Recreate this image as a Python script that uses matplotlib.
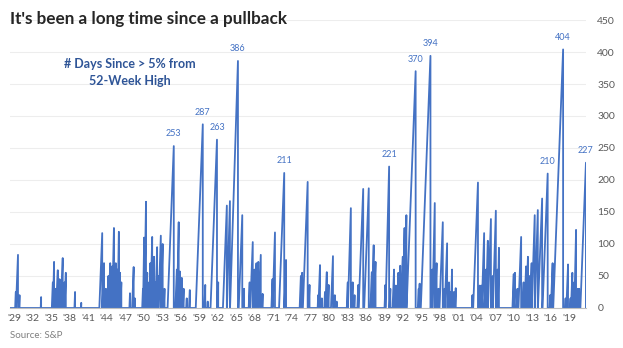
import matplotlib
matplotlib.use("Agg")
import matplotlib.pyplot as plt

plt.rcParams['font.family'] = ['Lato', 'DejaVu Sans']

# each streak: year it ended, and how many trading days it lasted
peak_year = [
    1929.3, 1929.65, 1929.9, 1933.4,
    1935.3, 1935.5, 1935.8, 1936.1, 1936.4, 1936.6, 1936.9, 1937.2, 1937.4,
    1938.9, 1939.9,
    1943.3, 1943.6, 1943.9, 1944.3, 1944.6, 1944.9, 1945.2, 1945.5, 1945.8,
    1946.0, 1946.2, 1946.4, 1947.8, 1948.4, 1948.6,
    1949.9, 1950.1, 1950.4, 1950.6, 1950.9, 1951.1, 1951.4, 1951.7, 1951.9,
    1952.2, 1952.4, 1952.8, 1953.1, 1953.4,
    1954.9, 1955.4, 1955.7, 1955.9, 1956.2, 1956.5, 1957.0, 1957.5,
    1959.6, 1960.0, 1960.4, 1961.9, 1962.1,
    1963.5, 1964.0, 1965.3, 1966.0, 1966.3,
    1967.2, 1967.7, 1968.0, 1968.3, 1968.6, 1969.0, 1969.3,
    1970.9, 1971.3, 1972.8, 1973.1,
    1975.5, 1975.7, 1976.6, 1976.9,
    1978.3, 1978.6, 1978.9, 1979.4, 1979.7, 1980.0, 1980.7, 1981.0, 1981.3,
    1983.1, 1983.6, 1983.9, 1984.2,
    1984.8, 1985.6, 1986.5, 1987.0, 1987.3, 1987.6,
    1989.2, 1989.8, 1990.0, 1990.6, 1990.9, 1991.3, 1991.6, 1992.0, 1992.3, 1992.6,
    1994.1, 1994.6, 1994.75, 1996.5,
    1996.8, 1997.2, 1997.5, 1997.8, 1998.5, 1998.8, 1999.2, 1999.5, 1999.8,
    2000.0, 2000.3, 2000.6,
    2003.3, 2004.2, 2004.5, 2004.8, 2005.2, 2005.5, 2005.8, 2006.3, 2006.6,
    2007.1, 2007.4, 2007.6,
    2010.0, 2010.2, 2010.6, 2011.2, 2011.6, 2012.0, 2012.3, 2012.6, 2012.9,
    2013.4, 2013.9, 2014.6, 2015.5, 2015.9, 2016.3,
    2018.0, 2018.4, 2018.8, 2019.2, 2019.5, 2019.8, 2020.1, 2020.4, 2020.6,
    2021.7,
]
peak_days = [
    25, 83, 20, 17,
    40, 72, 30, 59, 45, 35, 78, 40, 55,
    25, 8,
    117, 70, 30, 50, 70, 65, 125, 70, 60,
    119, 55, 40, 23, 64, 15,
    30, 110, 166, 55, 40, 70, 111, 80, 40,
    95, 50, 113, 100, 30,
    253, 60, 134, 57, 47, 30, 15, 28,
    287, 36, 10, 263, 40,
    160, 167, 386, 145, 30,
    40, 103, 60, 70, 72, 83, 22,
    45, 118, 211, 75,
    50, 55, 197, 36,
    20, 67, 15, 25, 56, 36, 81, 20, 10,
    40, 156, 40, 20,
    36, 186, 187, 56, 98, 72,
    36, 221, 30, 60, 35, 55, 66, 80, 125, 145,
    370, 30, 38, 394,
    60, 164, 70, 30, 134, 30, 101, 40, 25,
    60, 25, 31,
    20, 196, 35, 35, 117, 60, 105, 139, 50,
    152, 60, 94,
    53, 55, 30, 111, 40, 65, 80, 50, 70,
    145, 153, 171, 210, 20, 70,
    404, 15, 68, 15, 55, 40, 122, 30, 30,
    227,
]
labelled = [253, 287, 263, 386, 211, 221, 370, 394, 210, 404, 227]

# build the day-count line: count climbs during a streak, resets to 0 after
xs, ys = [1928.35], [0]
prev_end = 1928.35
for yr, d in zip(peak_year, peak_days):
    start = max(yr - d / 252.0, prev_end + 0.02)
    xs += [start, yr, yr]
    ys += [0, d, 0]
    prev_end = yr
xs.append(2021.75)
ys.append(0)

fig = plt.figure(figsize=(6.23, 3.48), dpi=100)
ax = fig.add_axes([0.016, 0.115, 0.925, 0.8275])
ax.plot(xs, ys, color='#4472C4', lw=1.3)

for yr, d in zip(peak_year, peak_days):
    if d in labelled:
        ax.text(yr, d + 12, str(d), ha='center', va='bottom', fontsize=6.5, color='#4472C4')

ax.set_xlim(1928.35, 2021.75)
ax.set_ylim(0, 450)
ax.set_yticks(range(0, 451, 50))
ax.yaxis.tick_right()
ax.set_xticks(range(1929, 2020, 3))
ax.set_xticklabels(["'%02d" % (y % 100) for y in range(1929, 2020, 3)])
ax.tick_params(axis='both', length=0, labelsize=7.5, colors='#595959')
ax.tick_params(axis='y', pad=8)
ax.tick_params(axis='x', pad=4)
ax.grid(axis='y', color='#EDEDED', lw=0.8)
ax.set_axisbelow(True)
for s in ['top', 'left', 'right']:
    ax.spines[s].set_visible(False)
ax.spines['bottom'].set_color('#BFBFBF')

ax.text(1947.8, 368, "# Days Since > 5% from\n52-Week High", ha='center', va='center',
        fontsize=9, fontweight='bold', color='#2F5597', linespacing=1.5)

fig.text(0.016, 0.945, "It's been a long time since a pullback", fontsize=12.3,
         fontweight='bold', color='#262626', va='center')
fig.text(0.016, 0.035, "Source: S&P", fontsize=7, color='#7F7F7F', va='center')

fig.savefig("out.png", dpi=100)
